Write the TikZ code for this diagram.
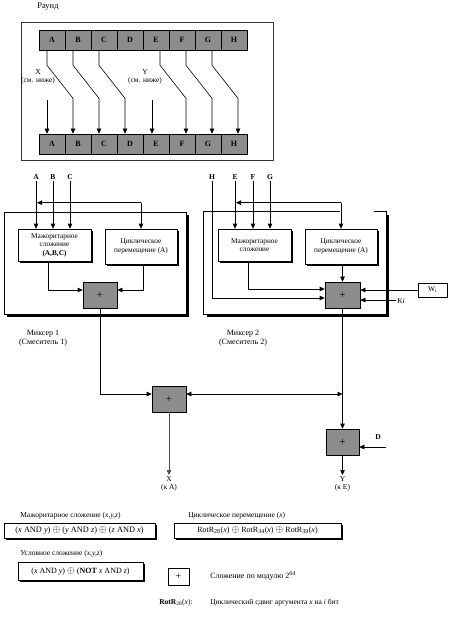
\documentclass[tikz,border=0pt]{standalone}
\usepackage{fontspec}
\setmainfont{Liberation Serif}
\usetikzlibrary{arrows.meta,shadows}

\newcommand{\xo}{{\fontsize{10}{10}\selectfont$\oplus$}}

\begin{document}
\begin{tikzpicture}[x=1pt,y=-1pt,line width=.6pt,
		>={Triangle[length=5pt,width=4.5pt]},
		lbl/.style={inner sep=1pt,align=center,font=\fontsize{7.5}{8.5}\selectfont},
		cell/.style={draw,fill=black!45,inner sep=0,minimum width=26pt,minimum height=20pt,font=\bfseries\fontsize{8}{9}\selectfont},
		adder/.style={draw,fill=black!45,inner sep=0,minimum width=34pt,minimum height=26pt,font=\fontsize{11}{11}\selectfont},
		blk/.style={draw,fill=white,inner sep=1pt,align=center,font=\fontsize{7.3}{8.5}\selectfont,
			drop shadow={shadow xshift=2pt,shadow yshift=-2pt,fill=black,opacity=1}},
		mixbox/.style={fill=white,minimum width=182pt,minimum height=102pt,
			drop shadow={shadow xshift=3pt,shadow yshift=-3pt,fill=black,opacity=1}},
		inp/.style={inner sep=1pt,font=\bfseries\fontsize{7.5}{8}\selectfont}]
	\useasboundingbox (0,0) rectangle (452,620);

	% round
	\node[lbl,font=\fontsize{8.5}{9}\selectfont] (title) at (48,7) {Раунд};
	\node[draw,black!80,minimum width=252pt,minimum height=138pt] (round) at (147,91) {};
	\foreach \r [count=\i] in {A,B,C,D,E,F,G,H} {
		\node[cell] (t\r) at ({26+26*\i},40) {\r};
		\node[cell] (b\r) at ({26+26*\i},144) {\r};
	}
	\foreach \s/\d/\o in {A/B/-5, B/C/-5, C/D/-5, E/F/4, F/G/4, G/H/4}
		\draw[->] ([xshift=\o pt]t\s.south) -- ++(0,15) -- ++(26,33) -- ([xshift=\o pt]b\d.north);
	\coordinate (xsrc) at (47,100);
	\coordinate (ysrc) at (152,100);
	\draw[->] (xsrc) -- ([xshift=-5pt]bA.north);
	\draw[->] (ysrc) -- ([xshift=-4pt]bE.north);
	\node[lbl] (xlbl) at (38,77) {X\\(см. ниже)};
	\node[lbl] (ylbl) at (145,77) {Y\\(см. ниже)};

	% mixer 1
	\node[mixbox,draw] (mix1) at (95,263) {};
	\node[blk,minimum width=73pt,minimum height=32pt] (maj1) at (54.5,245) {Мажоритарное\\сложение\\\textbf{(A,B,C)}};
	\node[blk,minimum width=72pt,minimum height=35pt] (cyc1) at (141,246.5) {Циклическое\\перемещение (A)};
	\node[adder] (add1) at (100,295) {+};
	\foreach \r/\x in {A/36, B/53, C/70} {
		\node[inp] (in\r) at (\x,177) {\r};
		\draw[->] (in\r.south) -- (in\r.south |- maj1.north);
	}
	\coordinate (fb1) at ([yshift=26pt]cyc1.north);
	\draw[->] (fb1) -- ([xshift=1pt]inA.south |- fb1);
	\draw[->] (fb1) -- (cyc1.north);
	\draw[->] ([xshift=-6.5pt]maj1.south) |- ([yshift=5pt]add1.west);
	\draw[->] ([xshift=2pt]cyc1.south) |- ([yshift=5pt]add1.east);
	\node[lbl,font=\fontsize{8}{9.5}\selectfont] (mix1lbl) at (43,338) {Миксер 1\\(Смеситель 1)};

	% mixer 2
	\node[mixbox] (mix2) at (295,263) {};
	\draw ([xshift=45pt]mix2.north) -- (mix2.north west) -- (mix2.south west)
		-- (mix2.south east) -- (mix2.north east) -- ++(-12,0);
	\node[blk,minimum width=73pt,minimum height=32pt] (maj2) at (254.5,245) {Мажоритарное\\сложение};
	\node[blk,minimum width=72pt,minimum height=35pt] (cyc2) at (341,246.5) {Циклическое\\перемещение (A)};
	\node[adder,minimum width=35pt] (add2) at (342.5,295) {+};
	\node[inp] (inH) at (212,177) {H};
	\foreach \r/\x in {E/235, F/253, G/270} {
		\node[inp] (in\r) at (\x,177) {\r};
		\draw[->] (in\r.south) -- (in\r.south |- maj2.north);
	}
	\coordinate (fb2) at ([yshift=26pt]cyc2.north);
	\draw[->] (fb2) -- ([xshift=1pt]inE.south |- fb2);
	\draw[->] (fb2) -- (cyc2.north);
	\draw[->] (inH.south) |- ([yshift=-3pt]add2.west);
	\draw[->] ([xshift=-6.5pt]maj2.south) |- ([yshift=6pt]add2.west);
	\draw[->] ([xshift=1.5pt]cyc2.south) -- ([xshift=1.5pt]cyc2.south |- add2.north);
	\node[draw,inner sep=0,minimum width=29pt,minimum height=14pt,font=\fontsize{7.5}{8}\selectfont] (w) at (432.5,290) {W\textsubscript{\tiny i}};
	\draw[->] (w.west) -- (w.west -| add2.east);
	\node[lbl] (ki) at (401,301) {K\textit{i}};
	\draw[->] ([yshift=1pt]ki.west) -- ([yshift=1pt]ki.west -| add2.east);
	\node[lbl,font=\fontsize{8}{9.5}\selectfont] (mix2lbl) at (243,338) {Миксер 2\\(Смеситель 2)};

	% output adders
	\node[adder] (add3) at (169,399) {+};
	\node[adder,minimum width=33pt] (add4) at (342.5,442) {+};
	\coordinate (jn) at ([yshift=5pt]add3.east -| add2.south);
	\draw[->] (add1.south) |- ([yshift=5pt]add3.west);
	\draw[<->] ([yshift=5pt]add3.east) -- (jn);
	\draw[->] (add2.south) -- (add4.north);
	\node[inp] (din) at (378,437) {D};
	\coordinate (dsrc) at (386,447);
	\draw[->] (dsrc) -- (dsrc -| add4.east);
	\node[lbl,anchor=north] (xout) at (169,475) {X\\(к A)};
	\node[lbl,anchor=north] (yout) at (342.5,475) {Y\\(к E)};
	\draw[->,black!70] (add3.south) -- (xout.north);
	\draw[->] (add4.south) -- (yout.north);

	% legend
	\node[lbl,anchor=west] (majttl) at (19,516) {Мажоритарное сложение (\textit{x,y,z})};
	\node[blk,minimum width=151pt,minimum height=15pt,font=\fontsize{8.3}{9}\selectfont] (majf) at (79.5,530.5)
		{(\textit{x} AND \textit{y}) \xo{} (\textit{y} AND \textit{z}) \xo{} (\textit{z} AND \textit{x})};
	\node[lbl,anchor=west] (cycttl) at (187,516) {Циклическое перемещение (\textit{x})};
	\node[blk,minimum width=167pt,minimum height=15pt,font=\fontsize{8}{9}\selectfont] (cycf) at (257.5,530.5)
		{RotR\textsubscript{28}(\textit{x}) \xo{} RotR\textsubscript{34}(\textit{x}) \xo{} RotR\textsubscript{39}(\textit{x})};
	\node[lbl,anchor=west] (condttl) at (19,554) {Условное сложение (\textit{x,y,z})};
	\node[blk,minimum width=125pt,minimum height=18pt,font=\fontsize{8}{9}\selectfont] (condf) at (80.5,571)
		{(\textit{x} AND \textit{y}) \xo{} (\textbf{NOT} \textit{x} AND \textit{z})};
	\node[draw,inner sep=0,minimum width=21pt,minimum height=17pt,font=\fontsize{10}{10}\selectfont] (addkey) at (178.5,576.5) {+};
	\node[lbl,anchor=west,font=\fontsize{8}{9}\selectfont] (addtxt) at (209,576) {Сложение по модулю 2\textsuperscript{64}};
	\node[lbl,anchor=west] (rotkey) at (158,603) {\textbf{RotR}\textsubscript{28}(\textit{x}):};
	\node[lbl,anchor=west] (rottxt) at (209,603) {Циклический сдвиг аргумента \textit{x} на \textit{i} бит};
\end{tikzpicture}
\end{document}
